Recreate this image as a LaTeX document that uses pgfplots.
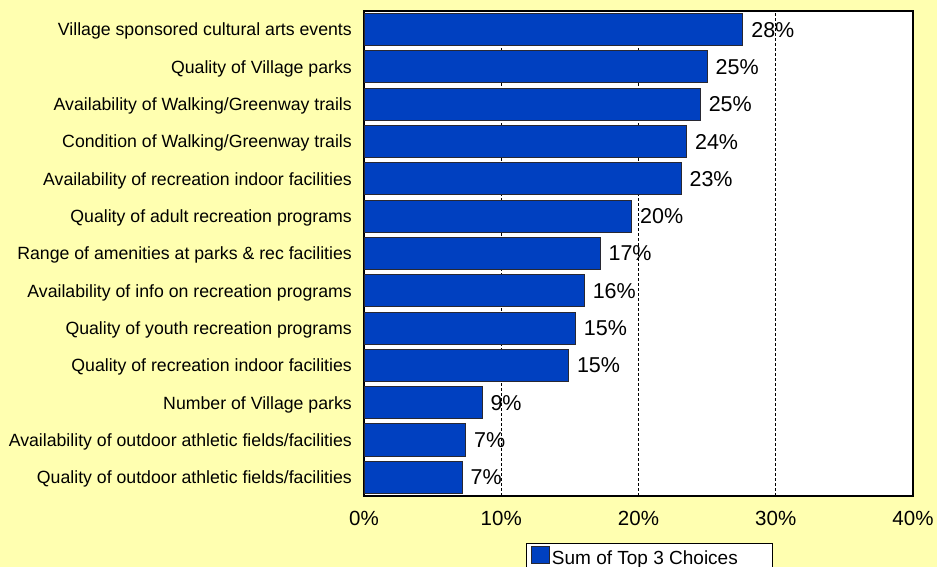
\documentclass[border=0pt]{standalone}
\usepackage{fontspec}
\setmainfont{Liberation Sans}
\usepackage{pgfplots}
\pgfplotsset{compat=1.18}
\usepackage{pgfplotstable}

\definecolor{bgyellow}{RGB}{255,255,176}
\definecolor{barblue}{RGB}{0,64,192}
\definecolor{baredge}{RGB}{40,40,50}

% y = position from the bottom, val = percent, lab = printed label
\pgfplotstableread{
y  val   lab
13 27.6  28
12 25.0  25
11 24.5  25
10 23.5  24
9  23.1  23
8  19.5  20
7  17.2  17
6  16.05 16
5  15.4  15
4  14.9  15
3  8.6   9
2  7.4   7
1  7.15  7
}\topthree

\begin{document}
\begin{tikzpicture}[x=1bp,y=1bp]
\path[use as bounding box, fill=bgyellow] (0,0) rectangle (937,567);
\begin{axis}[at={(364bp,71bp)}, anchor=south west,
  scale only axis, width=549bp, height=485bp,
  xbar, bar width=0.86,
  xmin=0, xmax=40, ymin=0.5, ymax=13.5,
  xtick={0,10,20,30,40},
  xticklabel={\pgfmathprintnumber{\tick}\%},
  /pgf/number format/assume math mode=true,
  ytick={1,...,13},
  yticklabels={Quality of outdoor athletic fields/facilities,
    Availability of outdoor athletic fields/facilities,
    Number of Village parks,
    Quality of recreation indoor facilities,
    Quality of youth recreation programs,
    Availability of info on recreation programs,
    Range of amenities at parks \& rec facilities,
    Quality of adult recreation programs,
    Availability of recreation indoor facilities,
    Condition of Walking/Greenway trails,
    Availability of Walking/Greenway trails,
    Quality of Village parks,
    Village sponsored cultural arts events},
  major tick length=0,
  axis background/.style={fill=white},
  axis line style={line width=2bp, black},
  xmajorgrids,
  major x grid style={black, line width=0.8bp, dash pattern=on 2.5bp off 2.5bp},
  xticklabel style={font=\fontsize{20.5bp}{24bp}\selectfont, anchor=base, yshift=-30bp},
  yticklabel style={font=\fontsize{17.7bp}{21bp}\selectfont, anchor=base east, inner sep=0pt, xshift=-12bp, yshift=-6.3bp},
  nodes near coords={\pgfplotspointmeta\%},
  nodes near coords style={font=\fontsize{21.5bp}{24bp}\selectfont, anchor=west, inner sep=0pt, xshift=8bp, black},
  legend style={at={(0.295,-0.0963)}, anchor=north west, draw=black, line width=1bp,
    fill=white, font=\fontsize{19bp}{22bp}\selectfont, inner xsep=5bp, inner ysep=2.5bp,
    nodes={inner sep=0pt}, /tikz/every odd column/.append style={column sep=2bp}},
  legend image code/.code={\draw[fill=barblue, draw=baredge, line width=1bp] (0bp,-5bp) rectangle (17.5bp,12bp);},
]
\addplot[fill=barblue, draw=baredge, line width=1bp, point meta=explicit symbolic]
  table[x=val, y=y, meta=lab] {\topthree};
\addlegendentry{Sum of Top 3 Choices\rule{30bp}{0pt}}
\end{axis}
\end{tikzpicture}
\end{document}
